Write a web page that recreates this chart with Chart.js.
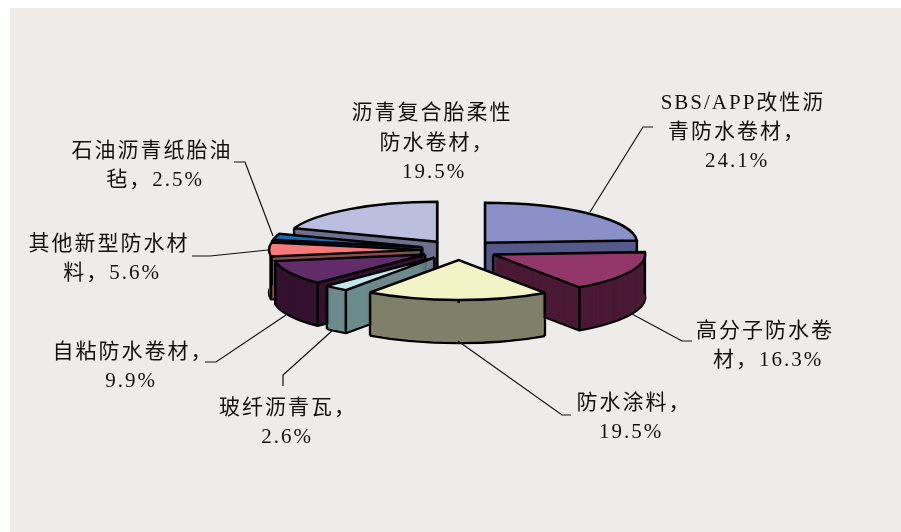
<!DOCTYPE html>
<html lang="zh">
<head>
<meta charset="utf-8">
<title>防水材料构成</title>
<script src="https://cdn.jsdelivr.net/npm/chart.js@4"></script>
<style>
  html, body { margin: 0; padding: 0; background: #fff; overflow: hidden; }
  #wrap { position: relative; width: 901px; height: 532px; }
  #panel { position: absolute; left: 10px; top: 8px; right: 0; bottom: 0; background: #edecea; }
  canvas { position: absolute; left: 0; top: 0; }
</style>
</head>
<body>
<div id="wrap">
  <div id="panel"></div>
  <canvas id="pie" width="901" height="532"></canvas>
</div>
<script>
// DATA
const categories = [
  "SBS/APP改性沥青防水卷材", "高分子防水卷材", "防水涂料", "玻纤沥青瓦",
  "自粘防水卷材", "其他新型防水材料", "石油沥青纸胎油毡", "沥青复合胎柔性防水卷材"
];
const shares = [24.1, 16.3, 19.5, 2.6, 9.9, 5.6, 2.5, 19.5];
const labelLines = [
  ["SBS/APP改性沥", "青防水卷材，", "24.1%"],
  ["高分子防水卷", "材，16.3%"],
  ["防水涂料，", "19.5%"],
  ["玻纤沥青瓦，", "2.6%"],
  ["自粘防水卷材，", "9.9%"],
  ["其他新型防水材", "料，5.6%"],
  ["石油沥青纸胎油", "毡，2.5%"],
  ["沥青复合胎柔性", "防水卷材，", "19.5%"]
];

// COLOURS
const topColors = ["#8b91c8", "#93376b", "#f3f4c6", "#bfe9ea", "#612c69", "#f7797a", "#1c6bb5", "#bcbee0"];
const sideColors = ["#565a8a", "#4a1a35", "#7f8069", "#6c8b8c", "#33112f", "#8e4d4d", "#0d3560", "#6e708f"];

// LAYOUT (3D look and label placement)
const squash = 0.263;
const depth = 43;
const explode = 38;
const labelAnchors = [
  [[743, 103], [737, 132], [737, 161]],
  [[765, 331], [768, 360]],
  [[634, 403], [631, 432]],
  [[288, 408], [287, 437]],
  [[133, 352], [131, 381]],
  [[109, 244], [112, 273]],
  [[152, 151], [155, 180]],
  [[432, 113], [437, 143], [434, 172]]
];
const leaders = [
  [[653, 127], [643, 127], [590, 212]],
  [[692, 341], [682, 341], [632, 314]],
  [[571, 415], [562, 415], [458, 341]],
  [[283, 386], [283, 375], [333, 330]],
  [[205, 362], [216, 362], [286, 315]],
  [[192, 256], [210, 256], [268, 250]],
  [[234, 162], [245, 162], [273, 236]]
];

// draws one arc through the library's element, squashed into an ellipse
function drawFace(ctx, arc, dx, dy, fill, borderWidth, join) {
  const keep = arc.options;
  arc.options = Object.assign(Object.create(keep), {
    backgroundColor: fill,
    borderColor: "#000",
    borderWidth: borderWidth,
    borderJoinStyle: join
  });
  ctx.save();
  ctx.translate(arc.x + dx, arc.y + dy);
  ctx.scale(1, squash);
  ctx.translate(-arc.x, -arc.y);
  arc.draw(ctx);
  ctx.restore();
  arc.options = keep;
}

const pie3d = {
  id: "pie3d",
  beforeDatasetDraw(chart, args) {
    const ctx = chart.ctx;
    const arcs = args.meta.data;
    const order = arcs.map((a, i) => i);
    const midOf = (a) => (a.startAngle + a.endAngle) / 2;
    // BACK SLICES FIRST
    order.sort((p, q) => Math.sin(midOf(arcs[p])) - Math.sin(midOf(arcs[q])));

    // keep the pen round while the path is squashed
    ctx.stroke = function () {
      ctx.save();
      ctx.setTransform(1, 0, 0, 1, 0, 0);
      ctx.miterLimit = 2.5;
      CanvasRenderingContext2D.prototype.stroke.call(ctx);
      ctx.restore();
    };

    order.forEach((i) => {
      const arc = arcs[i];
      const mid = midOf(arc);
      const dx = Math.cos(mid) * explode;
      const dy = Math.sin(mid) * explode * squash;

      // WALLS
      drawFace(ctx, arc, dx, dy + depth, sideColors[i], 2.5, "bevel");
      for (let d = depth - 1; d > 0; d--) {
        drawFace(ctx, arc, dx, dy + d, sideColors[i], 0, "bevel");
      }

      // VERTICAL EDGES
      const ox = arc.x + dx;
      const oy = arc.y + dy;
      const corners = [[ox, oy]];
      [arc.startAngle, arc.endAngle].forEach((a) => {
        corners.push([ox + Math.cos(a) * arc.outerRadius, oy + Math.sin(a) * arc.outerRadius * squash]);
      });
      ctx.save();
      ctx.strokeStyle = "#000";
      ctx.lineWidth = 2.5;
      corners.forEach((c) => {
        ctx.beginPath();
        ctx.moveTo(c[0], c[1]);
        ctx.lineTo(c[0], c[1] + depth);
        ctx.stroke();
      });
      ctx.restore();

      // TOP FACE
      drawFace(ctx, arc, dx, dy, topColors[i], 2.5, "miter");
    });

    delete ctx.stroke;
    return false;
  },
  afterDraw(chart) {
    const ctx = chart.ctx;
    ctx.save();
    // LEADER LINES
    ctx.strokeStyle = "#111";
    ctx.lineWidth = 1.2;
    leaders.forEach((pts) => {
      ctx.beginPath();
      pts.forEach((p, k) => (k ? ctx.lineTo(p[0], p[1]) : ctx.moveTo(p[0], p[1])));
      ctx.stroke();
    });
    // LABELS
    ctx.fillStyle = "#111";
    ctx.font = '21px "Liberation Serif", "Noto Sans CJK SC"';
    ctx.letterSpacing = "2px";
    ctx.textAlign = "center";
    ctx.textBaseline = "middle";
    labelLines.forEach((lines, i) => {
      lines.forEach((line, k) => {
        ctx.fillText(line, labelAnchors[i][k][0], labelAnchors[i][k][1]);
      });
    });
    ctx.restore();
  }
};

new Chart(document.getElementById("pie"), {
  type: "pie",
  data: {
    labels: categories,
    datasets: [{
      data: shares,
      backgroundColor: topColors,
      borderColor: "#000",
      borderWidth: 2.5
    }]
  },
  options: {
    responsive: false,
    animation: false,
    radius: 152,
    layout: { padding: { left: 17, bottom: 32 } },
    plugins: {
      legend: { display: false },
      tooltip: { enabled: false }
    }
  },
  plugins: [pie3d]
});
</script>
</body>
</html>
